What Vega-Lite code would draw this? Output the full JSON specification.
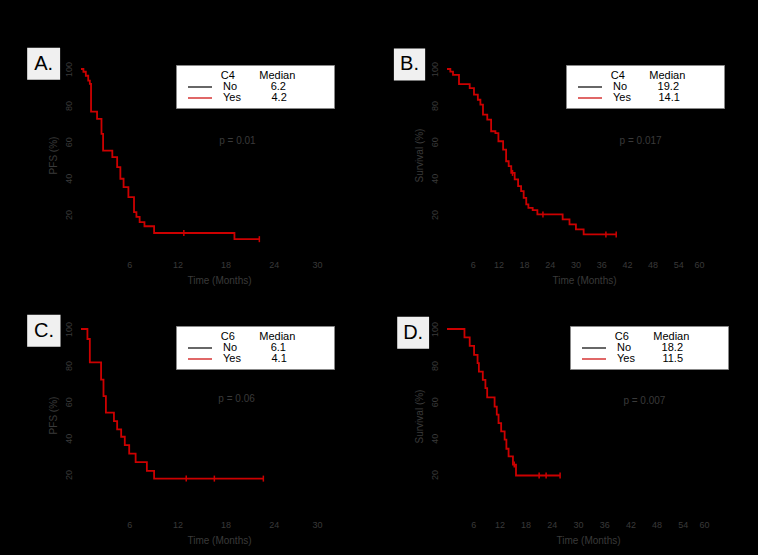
{
  "$schema": "https://vega.github.io/schema/vega-lite/v6.json",
  "background": "black",
  "padding": {"left": 27, "top": 47, "right": 31, "bottom": 10},
  "config": {"view": {"stroke": null}, "font": "Liberation Sans"},
  "datasets": {
    "A_km": [
      {"t": 0, "s": 100, "group": "Yes"}, {"t": 0.3, "s": 98.5, "group": "Yes"}, {"t": 0.6, "s": 96.3, "group": "Yes"},
      {"t": 0.9, "s": 93.6, "group": "Yes"}, {"t": 1.1, "s": 91.8, "group": "Yes"}, {"t": 1.25, "s": 76.6, "group": "Yes"},
      {"t": 2.0, "s": 72.6, "group": "Yes"}, {"t": 2.55, "s": 64.4, "group": "Yes"}, {"t": 2.75, "s": 55.2, "group": "Yes"},
      {"t": 3.9, "s": 51.6, "group": "Yes"}, {"t": 4.5, "s": 46.1, "group": "Yes"}, {"t": 4.9, "s": 39.7, "group": "Yes"},
      {"t": 5.3, "s": 35.1, "group": "Yes"}, {"t": 5.9, "s": 29.6, "group": "Yes"}, {"t": 6.6, "s": 21.4, "group": "Yes"},
      {"t": 6.9, "s": 18.7, "group": "Yes"}, {"t": 7.3, "s": 15.9, "group": "Yes"}, {"t": 7.9, "s": 13.6, "group": "Yes"},
      {"t": 9.1, "s": 9.9, "group": "Yes"}, {"t": 19.1, "s": 6.5, "group": "Yes"}, {"t": 22.2, "s": 6.5, "group": "Yes"}
    ],
    "A_cens": [{"t": 12.8, "s": 9.9}, {"t": 22.2, "s": 6.5}],
    "A_meta": [{"label": "A.", "p": "p = 0.01"}],
    "B_km": [
      {"t": 0, "s": 100, "group": "Yes"}, {"t": 0.78, "s": 98.6, "group": "Yes"}, {"t": 1.4, "s": 96.8, "group": "Yes"},
      {"t": 2.8, "s": 91.7, "group": "Yes"}, {"t": 5.3, "s": 89.5, "group": "Yes"}, {"t": 6.3, "s": 85.9, "group": "Yes"},
      {"t": 7.2, "s": 83.1, "group": "Yes"}, {"t": 7.8, "s": 80.4, "group": "Yes"}, {"t": 8.4, "s": 74.9, "group": "Yes"},
      {"t": 9.4, "s": 72.2, "group": "Yes"}, {"t": 10.3, "s": 65.8, "group": "Yes"}, {"t": 11.3, "s": 64.8, "group": "Yes"},
      {"t": 12.0, "s": 60.3, "group": "Yes"}, {"t": 13.1, "s": 55.7, "group": "Yes"}, {"t": 13.8, "s": 49.3, "group": "Yes"},
      {"t": 14.4, "s": 46.6, "group": "Yes"}, {"t": 15.0, "s": 42.9, "group": "Yes"}, {"t": 15.8, "s": 39.3, "group": "Yes"},
      {"t": 16.6, "s": 35.6, "group": "Yes"}, {"t": 17.3, "s": 32.9, "group": "Yes"}, {"t": 17.9, "s": 29.2, "group": "Yes"},
      {"t": 18.5, "s": 25.6, "group": "Yes"}, {"t": 19.0, "s": 23.7, "group": "Yes"}, {"t": 20.0, "s": 22.5, "group": "Yes"},
      {"t": 21.1, "s": 20.1, "group": "Yes"}, {"t": 27.0, "s": 17.4, "group": "Yes"}, {"t": 28.6, "s": 14.6, "group": "Yes"},
      {"t": 30.1, "s": 11.9, "group": "Yes"}, {"t": 31.9, "s": 9.1, "group": "Yes"}, {"t": 39.5, "s": 9.1, "group": "Yes"}
    ],
    "B_cens": [{"t": 15.3, "s": 42.9}, {"t": 22.4, "s": 20.1}, {"t": 37.1, "s": 9.1}, {"t": 39.5, "s": 9.1}],
    "B_meta": [{"label": "B.", "p": "p = 0.017"}],
    "C_km": [
      {"t": 0, "s": 100, "group": "Yes"}, {"t": 0.8, "s": 94.5, "group": "Yes"}, {"t": 1.1, "s": 81.7, "group": "Yes"},
      {"t": 2.5, "s": 72.2, "group": "Yes"}, {"t": 2.8, "s": 63.1, "group": "Yes"}, {"t": 3.1, "s": 54.0, "group": "Yes"},
      {"t": 4.1, "s": 49.4, "group": "Yes"}, {"t": 4.5, "s": 44.8, "group": "Yes"}, {"t": 5.0, "s": 40.8, "group": "Yes"},
      {"t": 5.45, "s": 36.2, "group": "Yes"}, {"t": 6.0, "s": 31.5, "group": "Yes"}, {"t": 6.8, "s": 26.9, "group": "Yes"},
      {"t": 8.2, "s": 22.0, "group": "Yes"}, {"t": 9.1, "s": 17.8, "group": "Yes"}, {"t": 22.7, "s": 17.8, "group": "Yes"}
    ],
    "C_cens": [{"t": 13.1, "s": 17.8}, {"t": 16.6, "s": 17.8}, {"t": 22.7, "s": 17.8}],
    "C_meta": [{"label": "C.", "p": "p = 0.06"}],
    "D_km": [
      {"t": 0, "s": 100, "group": "Yes"}, {"t": 4.0, "s": 95.4, "group": "Yes"}, {"t": 5.2, "s": 90.7, "group": "Yes"},
      {"t": 6.2, "s": 85.8, "group": "Yes"}, {"t": 7.0, "s": 81.2, "group": "Yes"}, {"t": 7.3, "s": 76.6, "group": "Yes"},
      {"t": 8.2, "s": 72.1, "group": "Yes"}, {"t": 8.8, "s": 67.5, "group": "Yes"}, {"t": 9.2, "s": 62.4, "group": "Yes"},
      {"t": 10.9, "s": 57.4, "group": "Yes"}, {"t": 11.4, "s": 52.9, "group": "Yes"}, {"t": 11.8, "s": 48.3, "group": "Yes"},
      {"t": 12.4, "s": 43.7, "group": "Yes"}, {"t": 13.2, "s": 39.2, "group": "Yes"}, {"t": 13.6, "s": 34.2, "group": "Yes"},
      {"t": 14.1, "s": 30.0, "group": "Yes"}, {"t": 15.1, "s": 25.5, "group": "Yes"}, {"t": 15.8, "s": 19.5, "group": "Yes"},
      {"t": 25.9, "s": 19.5, "group": "Yes"}
    ],
    "D_cens": [{"t": 15.4, "s": 25.5}, {"t": 21.1, "s": 19.5}, {"t": 22.7, "s": 19.5}, {"t": 25.9, "s": 19.5}],
    "D_meta": [{"label": "D.", "p": "p = 0.007"}]
  },
  "columns": 2,
  "spacing": {"column": 125, "row": 78},
  "bounds": "flush",
  "resolve": {"scale": {"x": "independent", "y": "independent", "color": "independent"}, "legend": {"color": "independent"}},
  "concat": [
    {
      "width": 241, "height": 182,
      "layer": [
        {"data": {"name": "A_km"}, "mark": {"type": "line", "interpolate": "step-after", "strokeWidth": 1.8},
         "encoding": {
           "x": {"field": "t", "type": "quantitative", "scale": {"domain": [0, 30], "nice": false, "zero": false},
                 "axis": {"values": [6, 12, 18, 24, 30], "tickCount": 12, "labelOverlap": false, "title": "Time (Months)", "grid": false, "ticks": false, "domainColor": "black", "labelColor": "#3a3a3a", "labelFontSize": 9, "labelPadding": 9, "titleColor": "#3a3a3a", "titleFontSize": 10, "titleFontWeight": "normal", "titleX": 138, "titleY": 29, "titleBaseline": "middle"}},
           "y": {"field": "s", "type": "quantitative", "scale": {"domain": [0, 100], "nice": false},
                 "axis": {"values": [20, 40, 60, 80, 100], "tickCount": 12, "labelOverlap": false, "title": "PFS (%)", "grid": false, "ticks": false, "domainColor": "black", "labelAngle": -90, "labelColor": "#3a3a3a", "labelFontSize": 9, "labelPadding": 8, "titleColor": "#3a3a3a", "titleFontSize": 10, "titleFontWeight": "normal", "titleX": -28, "titleY": 86, "titleBaseline": "middle"}},
           "color": {"field": "group", "type": "nominal", "scale": {"domain": ["No", "Yes"], "range": ["black", "#cc0000"]},
                     "legend": {"orient": "none", "legendX": 95, "legendY": -4, "title": "\u200b\u00a0\u00a0\u00a0\u00a0\u00a0\u00a0\u00a0\u00a0\u00a0\u00a0\u00a0\u00a0\u00a0C4\u00a0\u00a0\u00a0\u00a0\u00a0\u00a0\u00a0\u00a0Median\u00a0\u00a0\u00a0\u00a0\u00a0\u00a0\u00a0\u00a0\u00a0\u00a0\u00a0\u200b",
                                "labelExpr": "datum.label == 'No' ? 'No\u00a0\u00a0\u00a0\u00a0\u00a0\u00a0\u00a0\u00a0\u00a0\u00a0\u00a06.2' : 'Yes\u00a0\u00a0\u00a0\u00a0\u00a0\u00a0\u00a0\u00a0\u00a0\u00a04.2'",
                                "titleFontSize": 11, "titleFontWeight": "normal", "titleColor": "black", "titlePadding": 0, "titleLimit": 300, "labelFontSize": 11, "labelColor": "black",
                                "symbolType": "M0.2,0H5", "symbolSize": 100, "symbolStrokeWidth": 1.2, "labelOffset": 30, "rowPadding": 0, "padding": 5, "fillColor": "white", "strokeColor": "#888"}}
         }},
        {"data": {"name": "A_cens"}, "mark": {"type": "point", "shape": "M0,-1V1", "size": 36, "strokeWidth": 1.5, "color": "#cc0000", "filled": false, "opacity": 1},
         "encoding": {"x": {"field": "t", "type": "quantitative"}, "y": {"field": "s", "type": "quantitative"}}},
        {"data": {"name": "A_meta"}, "mark": {"type": "rect", "fill": "#f0f0f0"},
         "encoding": {"x": {"datum": -6.7, "type": "quantitative"}, "x2": {"datum": -2.6}, "y": {"datum": 111.7, "type": "quantitative"}, "y2": {"datum": 94.1}}},
        {"data": {"name": "A_meta"}, "mark": {"type": "text", "fontSize": 20, "color": "black"},
         "encoding": {"x": {"datum": -4.65, "type": "quantitative"}, "y": {"datum": 102.9, "type": "quantitative"}, "text": {"field": "label"}}},
        {"data": {"name": "A_meta"}, "mark": {"type": "text", "fontSize": 10, "color": "#3a3a3a", "align": "left"},
         "encoding": {"x": {"datum": 17.2, "type": "quantitative"}, "y": {"datum": 60.2, "type": "quantitative"}, "text": {"field": "p"}}}
      ]
    },
    {
      "width": 257, "height": 182,
      "layer": [
        {"data": {"name": "B_km"}, "mark": {"type": "line", "interpolate": "step-after", "strokeWidth": 1.8},
         "encoding": {
           "x": {"field": "t", "type": "quantitative", "scale": {"domain": [0, 60], "nice": false, "zero": false},
                 "axis": {"values": [6, 12, 18, 24, 30, 36, 42, 48, 54, 60], "tickCount": 12, "labelOverlap": false, "title": "Time (Months)", "grid": false, "ticks": false, "domainColor": "black", "labelColor": "#3a3a3a", "labelFontSize": 9, "labelPadding": 9, "titleColor": "#3a3a3a", "titleFontSize": 10, "titleFontWeight": "normal", "titleX": 137, "titleY": 29, "titleBaseline": "middle"}},
           "y": {"field": "s", "type": "quantitative", "scale": {"domain": [0, 100], "nice": false},
                 "axis": {"values": [20, 40, 60, 80, 100], "tickCount": 12, "labelOverlap": false, "title": "Survival (%)", "grid": false, "ticks": false, "domainColor": "black", "labelAngle": -90, "labelColor": "#3a3a3a", "labelFontSize": 9, "labelPadding": 8, "titleColor": "#3a3a3a", "titleFontSize": 10, "titleFontWeight": "normal", "titleX": -28, "titleY": 86, "titleBaseline": "middle"}},
           "color": {"field": "group", "type": "nominal", "scale": {"domain": ["No", "Yes"], "range": ["black", "#cc0000"]},
                     "legend": {"orient": "none", "legendX": 119, "legendY": -4, "title": "\u200b\u00a0\u00a0\u00a0\u00a0\u00a0\u00a0\u00a0\u00a0\u00a0\u00a0\u00a0\u00a0\u00a0C4\u00a0\u00a0\u00a0\u00a0\u00a0\u00a0\u00a0\u00a0Median\u00a0\u00a0\u00a0\u00a0\u00a0\u00a0\u00a0\u00a0\u00a0\u00a0\u00a0\u200b",
                                "labelExpr": "datum.label == 'No' ? 'No\u00a0\u00a0\u00a0\u00a0\u00a0\u00a0\u00a0\u00a0\u00a0\u00a019.2' : 'Yes\u00a0\u00a0\u00a0\u00a0\u00a0\u00a0\u00a0\u00a0\u00a014.1'",
                                "titleFontSize": 11, "titleFontWeight": "normal", "titleColor": "black", "titlePadding": 0, "titleLimit": 300, "labelFontSize": 11, "labelColor": "black",
                                "symbolType": "M0.2,0H5", "symbolSize": 100, "symbolStrokeWidth": 1.2, "labelOffset": 30, "rowPadding": 0, "padding": 5, "fillColor": "white", "strokeColor": "#888"}}
         }},
        {"data": {"name": "B_cens"}, "mark": {"type": "point", "shape": "M0,-1V1", "size": 36, "strokeWidth": 1.5, "color": "#cc0000", "filled": false, "opacity": 1},
         "encoding": {"x": {"field": "t", "type": "quantitative"}, "y": {"field": "s", "type": "quantitative"}}},
        {"data": {"name": "B_meta"}, "mark": {"type": "rect", "fill": "#f0f0f0"},
         "encoding": {"x": {"datum": -12.4, "type": "quantitative"}, "x2": {"datum": -5.1}, "y": {"datum": 111.2, "type": "quantitative"}, "y2": {"datum": 93.7}}},
        {"data": {"name": "B_meta"}, "mark": {"type": "text", "fontSize": 20, "color": "black"},
         "encoding": {"x": {"datum": -8.75, "type": "quantitative"}, "y": {"datum": 102.5, "type": "quantitative"}, "text": {"field": "label"}}},
        {"data": {"name": "B_meta"}, "mark": {"type": "text", "fontSize": 10, "color": "#3a3a3a", "align": "left"},
         "encoding": {"x": {"datum": 40.3, "type": "quantitative"}, "y": {"datum": 60.3, "type": "quantitative"}, "text": {"field": "p"}}}
      ]
    },
    {
      "width": 241, "height": 182,
      "layer": [
        {"data": {"name": "C_km"}, "mark": {"type": "line", "interpolate": "step-after", "strokeWidth": 1.8},
         "encoding": {
           "x": {"field": "t", "type": "quantitative", "scale": {"domain": [0, 30], "nice": false, "zero": false},
                 "axis": {"values": [6, 12, 18, 24, 30], "tickCount": 12, "labelOverlap": false, "title": "Time (Months)", "grid": false, "ticks": false, "domainColor": "black", "labelColor": "#3a3a3a", "labelFontSize": 9, "labelPadding": 9, "titleColor": "#3a3a3a", "titleFontSize": 10, "titleFontWeight": "normal", "titleX": 138, "titleY": 29, "titleBaseline": "middle"}},
           "y": {"field": "s", "type": "quantitative", "scale": {"domain": [0, 100], "nice": false},
                 "axis": {"values": [20, 40, 60, 80, 100], "tickCount": 12, "labelOverlap": false, "title": "PFS (%)", "grid": false, "ticks": false, "domainColor": "black", "labelAngle": -90, "labelColor": "#3a3a3a", "labelFontSize": 9, "labelPadding": 8, "titleColor": "#3a3a3a", "titleFontSize": 10, "titleFontWeight": "normal", "titleX": -28, "titleY": 86, "titleBaseline": "middle"}},
           "color": {"field": "group", "type": "nominal", "scale": {"domain": ["No", "Yes"], "range": ["black", "#cc0000"]},
                     "legend": {"orient": "none", "legendX": 95, "legendY": -3, "title": "\u200b\u00a0\u00a0\u00a0\u00a0\u00a0\u00a0\u00a0\u00a0\u00a0\u00a0\u00a0\u00a0\u00a0C6\u00a0\u00a0\u00a0\u00a0\u00a0\u00a0\u00a0\u00a0Median\u00a0\u00a0\u00a0\u00a0\u00a0\u00a0\u00a0\u00a0\u00a0\u00a0\u00a0\u200b",
                                "labelExpr": "datum.label == 'No' ? 'No\u00a0\u00a0\u00a0\u00a0\u00a0\u00a0\u00a0\u00a0\u00a0\u00a0\u00a06.1' : 'Yes\u00a0\u00a0\u00a0\u00a0\u00a0\u00a0\u00a0\u00a0\u00a0\u00a04.1'",
                                "titleFontSize": 11, "titleFontWeight": "normal", "titleColor": "black", "titlePadding": 0, "titleLimit": 300, "labelFontSize": 11, "labelColor": "black",
                                "symbolType": "M0.2,0H5", "symbolSize": 100, "symbolStrokeWidth": 1.2, "labelOffset": 30, "rowPadding": 0, "padding": 5, "fillColor": "white", "strokeColor": "#888"}}
         }},
        {"data": {"name": "C_cens"}, "mark": {"type": "point", "shape": "M0,-1V1", "size": 36, "strokeWidth": 1.5, "color": "#cc0000", "filled": false, "opacity": 1},
         "encoding": {"x": {"field": "t", "type": "quantitative"}, "y": {"field": "s", "type": "quantitative"}}},
        {"data": {"name": "C_meta"}, "mark": {"type": "rect", "fill": "#f0f0f0"},
         "encoding": {"x": {"datum": -6.7, "type": "quantitative"}, "x2": {"datum": -2.55}, "y": {"datum": 107.8, "type": "quantitative"}, "y2": {"datum": 90.3}}},
        {"data": {"name": "C_meta"}, "mark": {"type": "text", "fontSize": 20, "color": "black"},
         "encoding": {"x": {"datum": -4.6, "type": "quantitative"}, "y": {"datum": 99, "type": "quantitative"}, "text": {"field": "label"}}},
        {"data": {"name": "C_meta"}, "mark": {"type": "text", "fontSize": 10, "color": "#3a3a3a", "align": "left"},
         "encoding": {"x": {"datum": 17.1, "type": "quantitative"}, "y": {"datum": 61.3, "type": "quantitative"}, "text": {"field": "p"}}}
      ]
    },
    {
      "width": 262, "height": 182,
      "layer": [
        {"data": {"name": "D_km"}, "mark": {"type": "line", "interpolate": "step-after", "strokeWidth": 1.8},
         "encoding": {
           "x": {"field": "t", "type": "quantitative", "scale": {"domain": [0, 60], "nice": false, "zero": false},
                 "axis": {"values": [6, 12, 18, 24, 30, 36, 42, 48, 54, 60], "tickCount": 12, "labelOverlap": false, "title": "Time (Months)", "grid": false, "ticks": false, "domainColor": "black", "labelColor": "#3a3a3a", "labelFontSize": 9, "labelPadding": 9, "titleColor": "#3a3a3a", "titleFontSize": 10, "titleFontWeight": "normal", "titleX": 141, "titleY": 29, "titleBaseline": "middle"}},
           "y": {"field": "s", "type": "quantitative", "scale": {"domain": [0, 100], "nice": false},
                 "axis": {"values": [20, 40, 60, 80, 100], "tickCount": 12, "labelOverlap": false, "title": "Survival (%)", "grid": false, "ticks": false, "domainColor": "black", "labelAngle": -90, "labelColor": "#3a3a3a", "labelFontSize": 9, "labelPadding": 8, "titleColor": "#3a3a3a", "titleFontSize": 10, "titleFontWeight": "normal", "titleX": -28, "titleY": 87, "titleBaseline": "middle"}},
           "color": {"field": "group", "type": "nominal", "scale": {"domain": ["No", "Yes"], "range": ["black", "#cc0000"]},
                     "legend": {"orient": "none", "legendX": 123, "legendY": -3, "title": "\u200b\u00a0\u00a0\u00a0\u00a0\u00a0\u00a0\u00a0\u00a0\u00a0\u00a0\u00a0\u00a0\u00a0C6\u00a0\u00a0\u00a0\u00a0\u00a0\u00a0\u00a0\u00a0Median\u00a0\u00a0\u00a0\u00a0\u00a0\u00a0\u00a0\u00a0\u00a0\u00a0\u00a0\u200b",
                                "labelExpr": "datum.label == 'No' ? 'No\u00a0\u00a0\u00a0\u00a0\u00a0\u00a0\u00a0\u00a0\u00a0\u00a018.2' : 'Yes\u00a0\u00a0\u00a0\u00a0\u00a0\u00a0\u00a0\u00a0\u00a011.5'",
                                "titleFontSize": 11, "titleFontWeight": "normal", "titleColor": "black", "titlePadding": 0, "titleLimit": 300, "labelFontSize": 11, "labelColor": "black",
                                "symbolType": "M0.2,0H5", "symbolSize": 100, "symbolStrokeWidth": 1.2, "labelOffset": 30, "rowPadding": 0, "padding": 5, "fillColor": "white", "strokeColor": "#888"}}
         }},
        {"data": {"name": "D_cens"}, "mark": {"type": "point", "shape": "M0,-1V1", "size": 36, "strokeWidth": 1.5, "color": "#cc0000", "filled": false, "opacity": 1},
         "encoding": {"x": {"field": "t", "type": "quantitative"}, "y": {"field": "s", "type": "quantitative"}}},
        {"data": {"name": "D_meta"}, "mark": {"type": "rect", "fill": "#f0f0f0"},
         "encoding": {"x": {"datum": -11.4, "type": "quantitative"}, "x2": {"datum": -4.1}, "y": {"datum": 106.7, "type": "quantitative"}, "y2": {"datum": 89.2}}},
        {"data": {"name": "D_meta"}, "mark": {"type": "text", "fontSize": 20, "color": "black"},
         "encoding": {"x": {"datum": -7.75, "type": "quantitative"}, "y": {"datum": 98, "type": "quantitative"}, "text": {"field": "label"}}},
        {"data": {"name": "D_meta"}, "mark": {"type": "text", "fontSize": 10, "color": "#3a3a3a", "align": "left"},
         "encoding": {"x": {"datum": 40.4, "type": "quantitative"}, "y": {"datum": 60.2, "type": "quantitative"}, "text": {"field": "p"}}}
      ]
    }
  ]
}
